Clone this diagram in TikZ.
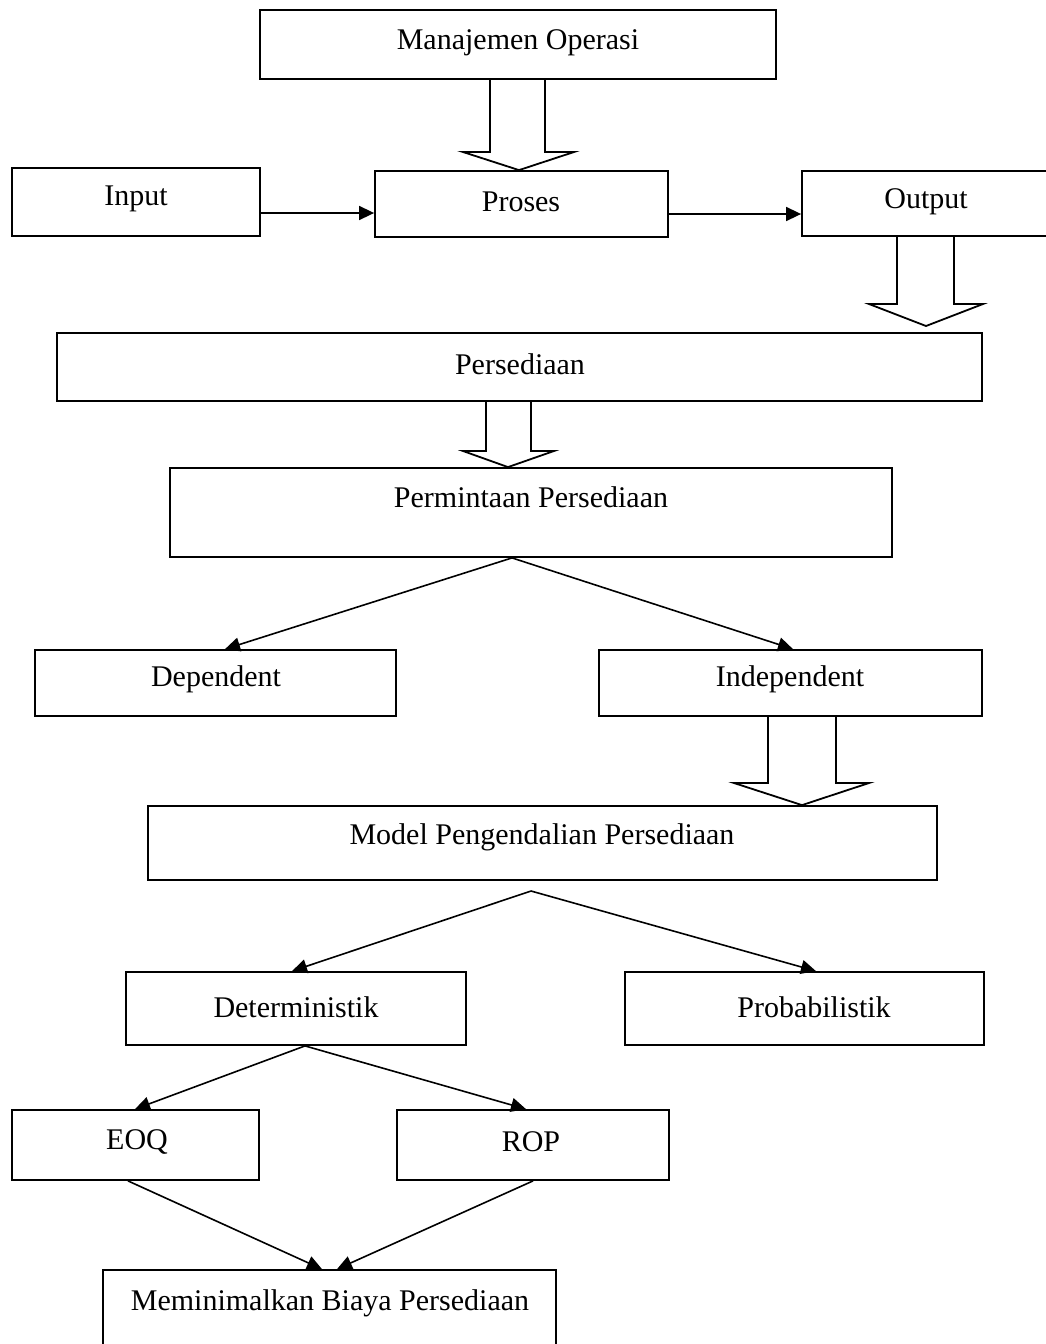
\documentclass[tikz,border=0pt]{standalone}
\usepackage{fontspec}
\setmainfont{Liberation Serif}
\usetikzlibrary{fit,arrows.meta}
\begin{document}
\begin{tikzpicture}[x=1pt,y=-1pt,
  box/.style={draw,line width=1.8pt,inner sep=0pt,fit={#1}},
  lbl/.style={inner sep=0pt,font=\fontsize{30}{36}\selectfont},
  arr/.style={line width=1.6pt,-{Triangle[length=15pt,width=14pt]}},
  blk/.style={line width=1.8pt,line join=miter}]
\useasboundingbox (0,0) rectangle (1045,1344);
% boxes
\node[box={(260,10)(776,79)}] (mo) {};
\node[box={(12,168)(260,236)}] (in) {};
\node[box={(375,171)(668,237)}] (pr) {};
\node[box={(802,171)(1052,236)}] (out) {};
\node[box={(57,333)(982,401)}] (ps) {};
\node[box={(170,468)(892,557)}] (pp) {};
\node[box={(35,650)(396,716)}] (dep) {};
\node[box={(599,650)(982,716)}] (ind) {};
\node[box={(148,806)(937,880)}] (mod) {};
\node[box={(126,972)(466,1045)}] (det) {};
\node[box={(625,972)(984,1045)}] (prob) {};
\node[box={(12,1110)(259,1180)}] (eoq) {};
\node[box={(397,1110)(669,1180)}] (rop) {};
\node[box={(103,1270)(556,1352)}] (mem) {};
% labels
\node[lbl] (mo-t) at (518,43) {Manajemen Operasi};
\node[lbl] (in-t) at (136,199) {Input};
\node[lbl] (pr-t) at (521,202) {Proses};
\node[lbl] (out-t) at (926,202) {Output};
\node[lbl] (ps-t) at (520,364) {Persediaan};
\node[lbl] (pp-t) at (531,497) {Permintaan Persediaan};
\node[lbl] (dep-t) at (216,679) {Dependent};
\node[lbl] (ind-t) at (790,679) {Independent};
\node[lbl] (mod-t) at (542,837) {Model Pengendalian Persediaan};
\node[lbl] (det-t) at (296,1007) {Deterministik};
\node[lbl] (prob-t) at (814,1007) {Probabilistik};
\node[lbl] (eoq-t) at (137,1142) {EOQ};
\node[lbl] (rop-t) at (531,1142) {ROP};
\node[lbl] (mem-t) at (330,1303) {Meminimalkan Biaya Persediaan};
% thin arrows
\draw[arr] (in.east |- 0,213) -- (pr.west |- 0,213);
\draw[arr] (pr.east |- 0,214) -- (out.west |- 0,214);
\draw[arr] (pp.south -| 512,0) -- (dep.north -| 225,0);
\draw[arr] (pp.south -| 512,0) -- (ind.north -| 793,0);
\coordinate (mapex) at (531,891);
\draw[arr] (mapex) -- (det.north -| 292,0);
\draw[arr] (mapex) -- (prob.north -| 816,0);
\draw[arr] (det.south -| 305,0) -- (eoq.north -| 135,0);
\draw[arr] (det.south -| 305,0) -- (rop.north -| 526,0);
\draw[arr] (eoq.south -| 128,0) -- (mem.north -| 322,0);
\draw[arr] (rop.south -| 533,0) -- (mem.north -| 337,0);
% block arrows
\draw[blk] (mo.south -| 490,0) -- (490,152) -- (463,152) -- (pr.north -| 519,0) -- (574,152) -- (545,152) -- (mo.south -| 545,0);
\draw[blk] (out.south -| 897,0) -- (897,304) -- (869,304) -- (926,326) -- (983,304) -- (954,304) -- (out.south -| 954,0);
\draw[blk] (ps.south -| 486,0) -- (486,451) -- (463,451) -- (pp.north -| 508,0) -- (554,451) -- (531,451) -- (ps.south -| 531,0);
\draw[blk] (ind.south -| 768,0) -- (768,783) -- (734,783) -- (mod.north -| 802,0) -- (869,783) -- (836,783) -- (ind.south -| 836,0);
\end{tikzpicture}
\end{document}
